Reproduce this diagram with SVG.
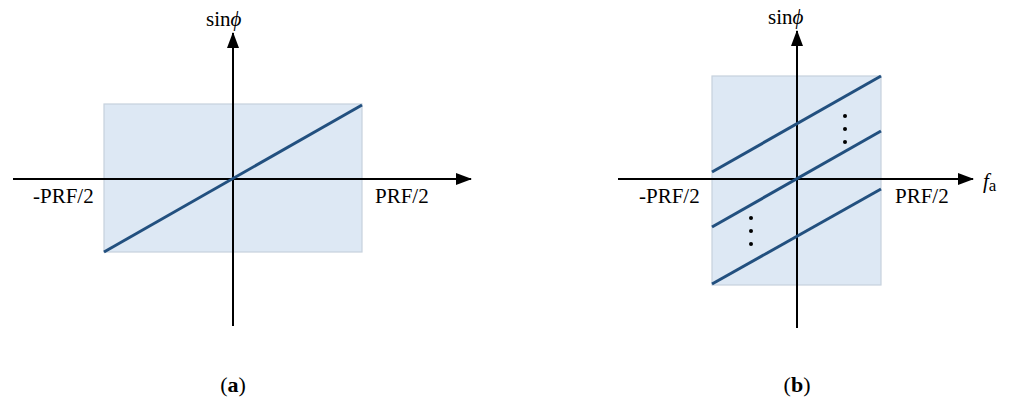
<svg xmlns="http://www.w3.org/2000/svg" width="1011" height="399" viewBox="0 0 1011 399">
<style>
.region{fill:#dde8f4;stroke:#c6d1dd;stroke-width:1.2}
.axis{stroke:#000;stroke-width:2;fill:none}
.line{stroke:#22507f;stroke-width:3;fill:none;stroke-linecap:butt}
.lbl{font-family:"Liberation Serif","DejaVu Serif",serif;font-size:21px;fill:#000}
.cap{font-family:"Liberation Serif","DejaVu Serif",serif;font-size:22px;fill:#000}
.dot{fill:#000}
</style>
<defs>
<marker id="arr" viewBox="0 0 16 12" refX="15" refY="6" markerWidth="16" markerHeight="12" markerUnits="userSpaceOnUse" orient="auto">
<path d="M0,0 L16,6 L0,12 Z" fill="#000"/>
</marker>
</defs>
<g id="panel-a">
<rect id="region-a" class="region" x="104" y="104" width="258" height="148"/>
<g id="connectors-a">
<line class="axis" x1="13" y1="179" x2="471" y2="179" marker-end="url(#arr)"/>
<line class="axis" x1="233" y1="326" x2="233" y2="33" marker-end="url(#arr)"/>
<line class="line" x1="104" y1="252" x2="362" y2="105"/>
</g>
<g id="labels-a">
<text class="lbl" x="206" y="26" font-size="18">sin<tspan font-style="italic">ϕ</tspan></text>
<text class="lbl" x="33" y="203">-PRF/2</text>
<text class="lbl" x="375" y="203">PRF/2</text>
<text class="cap" x="233" y="392" text-anchor="middle">(<tspan font-weight="bold">a</tspan>)</text>
</g>
</g>
<g id="panel-b">
<rect id="region-b" class="region" x="712" y="76" width="169" height="209"/>
<g id="connectors-b">
<line class="axis" x1="618" y1="179" x2="973" y2="179" marker-end="url(#arr)"/>
<line class="axis" x1="797" y1="328" x2="797" y2="31" marker-end="url(#arr)"/>
<line class="line" x1="712" y1="172" x2="881" y2="76"/>
<line class="line" x1="712" y1="227" x2="881" y2="131"/>
<line class="line" x1="712" y1="284" x2="881" y2="189"/>
</g>
<g id="dots-b">
<circle class="dot" cx="845" cy="116" r="2"/>
<circle class="dot" cx="845" cy="129" r="2"/>
<circle class="dot" cx="845" cy="142" r="2"/>
<circle class="dot" cx="751" cy="218" r="2"/>
<circle class="dot" cx="751" cy="231" r="2"/>
<circle class="dot" cx="751" cy="244" r="2"/>
</g>
<g id="labels-b">
<text class="lbl" x="768" y="24" font-size="18">sin<tspan font-style="italic">ϕ</tspan></text>
<text class="lbl" x="639" y="203">-PRF/2</text>
<text class="lbl" x="895" y="203">PRF/2</text>
<text class="lbl" x="983" y="188" font-size="26"><tspan font-style="italic">f</tspan><tspan font-size="17" dy="3">a</tspan></text>
<text class="cap" x="797" y="392" text-anchor="middle">(<tspan font-weight="bold">b</tspan>)</text>
</g>
</g>
</svg>
